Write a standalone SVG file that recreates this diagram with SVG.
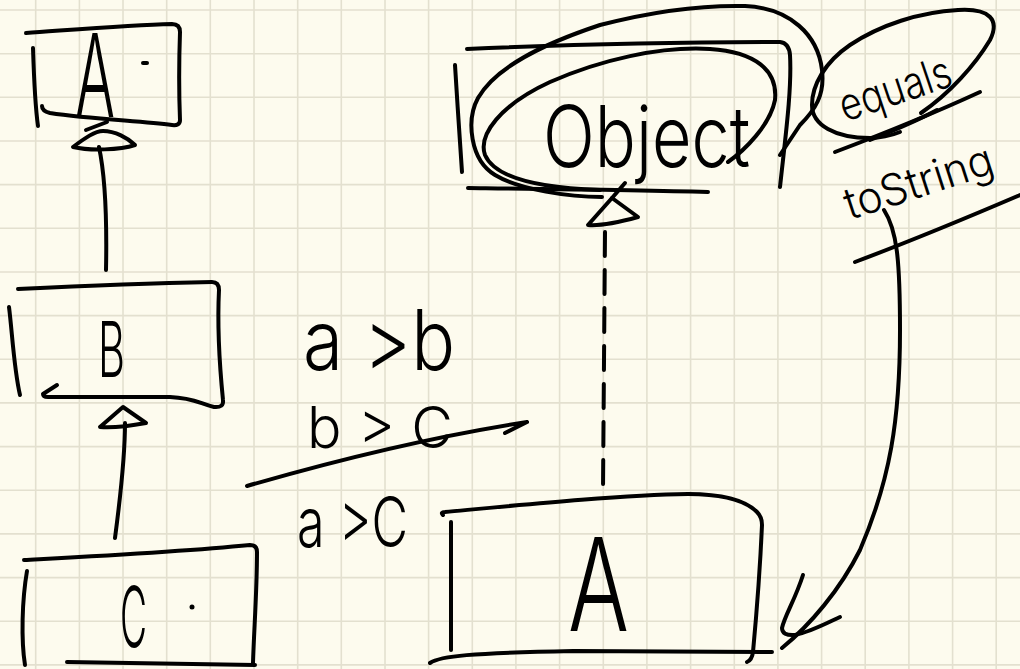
<svg xmlns="http://www.w3.org/2000/svg" width="1020" height="669" viewBox="0 0 1020 669">
  <style>
    .ink{fill:none;stroke:#000;stroke-width:4;stroke-linecap:round;stroke-linejoin:round}
    .dash{stroke-dasharray:24 14}
    .hand{font-family:Inter,"Liberation Sans",sans-serif;font-weight:300;fill:#000}
    .grid{fill:none;stroke:#e3e0cf;stroke-width:1.6}
  </style>

  <!-- paper -->
  <rect width="1020" height="669" fill="#fdfbee"/>
  <path class="grid" d="M35.7 0V669M79.4 0V669M123 0V669M166.7 0V669M210.3 0V669M254 0V669M297.7 0V669M341.3 0V669M385 0V669M428.6 0V669M472.3 0V669M515.9 0V669M559.6 0V669M603.3 0V669M646.9 0V669M690.6 0V669M734.3 0V669M777.9 0V669M821.6 0V669M865.2 0V669M908.9 0V669M952.6 0V669M996.2 0V669"/>
  <path class="grid" d="M0 10H1020M0 53.7H1020M0 97.3H1020M0 141H1020M0 184.6H1020M0 228.3H1020M0 272H1020M0 315.6H1020M0 359.3H1020M0 402.9H1020M0 446.6H1020M0 490.3H1020M0 533.9H1020M0 577.6H1020M0 621.2H1020M0 664.9H1020"/>

  <!-- class A (top of the chain) -->
  <g id="class-a-top">
    <path class="ink" d="M26 33 C70 30 130 25 172 24 Q180 24 180 32 C179 60 179 95 180 120 Q180 126 172 125 C140 121 90 119 50 113 Q42 111 42 106"/>
    <path class="ink" d="M33 48 C34 80 35 105 38 126"/>
    <text class="hand" x="75" y="117" font-size="115" textLength="40" lengthAdjust="spacingAndGlyphs">A</text>
    <path class="ink" d="M143 63 L147 63"/>
  </g>

  <!-- class B -->
  <g id="class-b">
    <path class="ink" d="M18 289 C80 286 160 283 212 282 Q219 282 219 290 C217 330 220 370 223 400 Q224 408 214 407 C200 404 195 398 170 397 L48 397 Q43 397 43 394 L57 385"/>
    <path class="ink" d="M9 307 C12 330 14 370 20 395"/>
    <text class="hand" x="98" y="377" font-size="77" textLength="27" lengthAdjust="spacingAndGlyphs">B</text>
  </g>

  <!-- class C -->
  <g id="class-c">
    <path class="ink" d="M24 560 C80 557 180 552 250 545 Q257 545 257 552 C257 590 254 630 253 663"/>
    <path class="ink" d="M67 662 L255 665"/>
    <path class="ink" d="M27 571 C22 600 21 640 25 665"/>
    <text class="hand" x="120" y="647" font-size="84" textLength="27" lengthAdjust="spacingAndGlyphs">C</text>
    <circle cx="192" cy="607" r="2.5" fill="#000"/>
  </g>

  <!-- class Object, circled -->
  <g id="class-object">
    <path class="ink" d="M455 65 C457 100 460 140 462 172"/>
    <path class="ink" d="M467 49 C560 45 680 42 780 42 Q789 43 790 55 C792 90 785 140 780 187"/>
    <path class="ink" d="M468 188 C550 189 640 190 708 192"/>
    <path class="ink" d="M602 197 C570 197 520 190 495 175 C470 160 466 120 478 98 C495 68 540 45 600 25 C650 12 700 5 745 6 C790 8 818 35 822 70 C825 95 815 110 800 125 L780 155"/>
    <path class="ink" d="M728 162 C745 150 770 125 775 100 C778 70 755 52 710 49 C660 46 600 60 550 82 C500 105 478 135 485 155 C495 178 540 188 600 190"/>
    <text class="hand" x="543" y="167" font-size="85" textLength="207" lengthAdjust="spacingAndGlyphs">Object</text>
  </g>

  <!-- class A implementing Object -->
  <g id="class-a-bottom">
    <path class="ink" d="M443 515 Q440 512 445 512 C520 505 620 495 688 494 C720 494 745 500 757 512 Q762 517 762 525 C760 570 756 620 753 652 Q752 660 747 662"/>
    <path class="ink" d="M451 522 L451 650"/>
    <path class="ink" d="M430 663 C440 656 470 653 573 651 L772 652"/>
    <text class="hand" x="568" y="631" font-size="129" textLength="61" lengthAdjust="spacingAndGlyphs">A</text>
  </g>

  <!-- inherited methods of Object -->
  <g id="object-methods">
    <path class="ink" d="M921 113 C950 93 975 65 990 40 C1000 20 990 8 958 10 C920 12 880 25 850 45 C825 62 812 85 812 105 C812 125 835 138 870 138 C880 138 890 136 900 132"/>
    <text class="hand" transform="translate(845 122) rotate(-18.6)" font-size="45" textLength="116" lengthAdjust="spacingAndGlyphs">equals</text>
    <path class="ink" d="M835 152 C880 135 930 115 980 92"/>
    <path class="ink" d="M870 140 C895 130 915 122 937 110"/>
    <text class="hand" transform="translate(850 220) rotate(-17.9)" font-size="44" textLength="154" lengthAdjust="spacingAndGlyphs">toString</text>
    <path class="ink" d="M855 262 C900 245 950 225 1020 195"/>
  </g>

  <!-- transitivity note -->
  <g id="transitivity">
    <text class="hand" x="303" y="370" font-size="84" textLength="152" lengthAdjust="spacingAndGlyphs">a &gt;b</text>
    <text class="hand" x="307" y="448" font-size="58" textLength="146" lengthAdjust="spacingAndGlyphs">b &gt; C</text>
    <path class="ink" d="M247 486 C330 462 430 437 527 422 M505 433 L527 422"/>
    <text class="hand" x="297" y="547" font-size="70" textLength="111" lengthAdjust="spacingAndGlyphs">a &gt;C</text>
  </g>

  <!-- connectors -->
  <g id="connectors">
    <!-- B extends A -->
    <path class="ink" d="M106 270 C107 220 105 175 99 147"/>
    <path class="ink" d="M73 147 C85 138 95 131 103 131 C115 131 128 138 135 145 C120 150 90 151 73 147 Z"/>
    <path class="ink" d="M86 130 L107 122"/>
    <!-- C extends B -->
    <path class="ink" d="M115 538 C120 500 125 460 125 423"/>
    <path class="ink" d="M100 427 L123 407 L146 423 C130 426 115 428 100 427 Z"/>
    <!-- A realizes Object -->
    <path class="ink dash" d="M605 232 L603 490"/>
    <path class="ink" d="M588 225 L612 198 L638 217 C620 222 600 226 588 225 Z"/>
    <path class="ink" d="M612 198 L625 183"/>
    <!-- methods flow down into A -->
    <path class="ink" d="M884 210 C897 230 900 260 900 330 C900 420 890 480 860 550 C840 590 810 625 782 648"/>
    <path class="ink" d="M803 575 C795 600 785 615 782 628 Q782 636 795 635 C810 632 825 624 840 617"/>
  </g>
</svg>
